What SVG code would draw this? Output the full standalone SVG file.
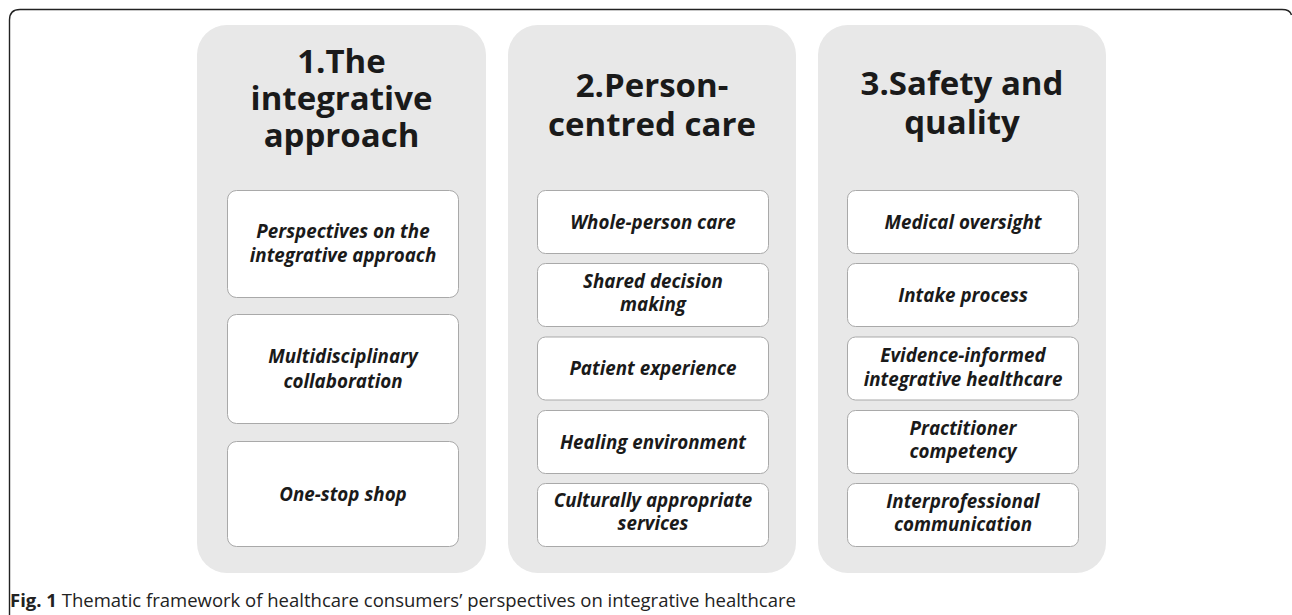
<svg xmlns="http://www.w3.org/2000/svg" width="1292" height="615" viewBox="0 0 1292 615">
<style>
.panel{fill:#e8e8e8;}
.box{fill:#ffffff;stroke:#a9a9a9;stroke-width:1;}
.head{font-family:"Open Sans","Liberation Sans",sans-serif;font-weight:700;font-size:33px;fill:#1a1a1a;text-anchor:middle;}
.sub{font-family:"Open Sans","Liberation Sans",sans-serif;font-weight:700;font-style:italic;font-size:18.8px;fill:#1a1a1a;text-anchor:middle;}
.cap{font-family:"Open Sans","Liberation Sans",sans-serif;font-size:18.5px;fill:#222;}
</style>
<rect width="1292" height="615" fill="#ffffff"/>
<path d="M9.5,615 V20 Q9.5,9.5 20,9.5 H1282 Q1290,9.5 1291.5,15" fill="none" stroke="#222" stroke-width="1.4"/>

<g id="theme1">
<rect class="panel" x="197" y="25" width="289" height="548" rx="30"/>
<text class="head" x="341.5" y="73">1.The</text>
<text class="head" x="341.5" y="110">integrative</text>
<text class="head" x="341.5" y="147">approach</text>
<g id="t1-1"><rect class="box" x="227.5" y="190.5" width="231" height="107" rx="9"/>
<text class="sub" x="343" y="238">Perspectives on the</text>
<text class="sub" x="343" y="262">integrative approach</text></g>
<g id="t1-2"><rect class="box" x="227.5" y="314.5" width="231" height="109" rx="9"/>
<text class="sub" x="343" y="363">Multidisciplinary</text>
<text class="sub" x="343" y="388">collaboration</text></g>
<g id="t1-3"><rect class="box" x="227.5" y="441.5" width="231" height="105" rx="9"/>
<text class="sub" x="343" y="501">One-stop shop</text></g>
</g>

<g id="theme2">
<rect class="panel" x="508" y="25" width="288" height="548" rx="30"/>
<text class="head" x="652" y="97">2.Person-</text>
<text class="head" x="652" y="136">centred care</text>
<g id="t2-1"><rect class="box" x="537.5" y="190.5" width="231" height="63" rx="8"/>
<text class="sub" x="653" y="229">Whole-person care</text></g>
<g id="t2-2"><rect class="box" x="537.5" y="263.5" width="231" height="63" rx="8"/>
<text class="sub" x="653" y="288">Shared decision</text>
<text class="sub" x="653" y="311">making</text></g>
<g id="t2-3"><rect class="box" x="537.5" y="337" width="231" height="63" rx="8"/>
<text class="sub" x="653" y="375">Patient experience</text></g>
<g id="t2-4"><rect class="box" x="537.5" y="410.5" width="231" height="63" rx="8"/>
<text class="sub" x="653" y="449">Healing environment</text></g>
<g id="t2-5"><rect class="box" x="537.5" y="483.5" width="231" height="63" rx="8"/>
<text class="sub" x="653" y="507">Culturally appropriate</text>
<text class="sub" x="653" y="530">services</text></g>
</g>

<g id="theme3">
<rect class="panel" x="818" y="25" width="288" height="548" rx="30"/>
<text class="head" x="962" y="95">3.Safety and</text>
<text class="head" x="962" y="134">quality</text>
<g id="t3-1"><rect class="box" x="847.5" y="190.5" width="231" height="63" rx="8"/>
<text class="sub" x="963" y="229">Medical oversight</text></g>
<g id="t3-2"><rect class="box" x="847.5" y="263.5" width="231" height="63" rx="8"/>
<text class="sub" x="963" y="302">Intake process</text></g>
<g id="t3-3"><rect class="box" x="847.5" y="337" width="231" height="63" rx="8"/>
<text class="sub" x="963" y="362">Evidence-informed</text>
<text class="sub" x="963" y="386">integrative healthcare</text></g>
<g id="t3-4"><rect class="box" x="847.5" y="410.5" width="231" height="63" rx="8"/>
<text class="sub" x="963" y="435">Practitioner</text>
<text class="sub" x="963" y="458">competency</text></g>
<g id="t3-5"><rect class="box" x="847.5" y="483.5" width="231" height="63" rx="8"/>
<text class="sub" x="963" y="508">Interprofessional</text>
<text class="sub" x="963" y="531">communication</text></g>
</g>

<g id="connectors"></g>

<text class="cap" x="10" y="607"><tspan font-weight="700">Fig. 1</tspan> Thematic framework of healthcare consumers’ perspectives on integrative healthcare</text>
</svg>
